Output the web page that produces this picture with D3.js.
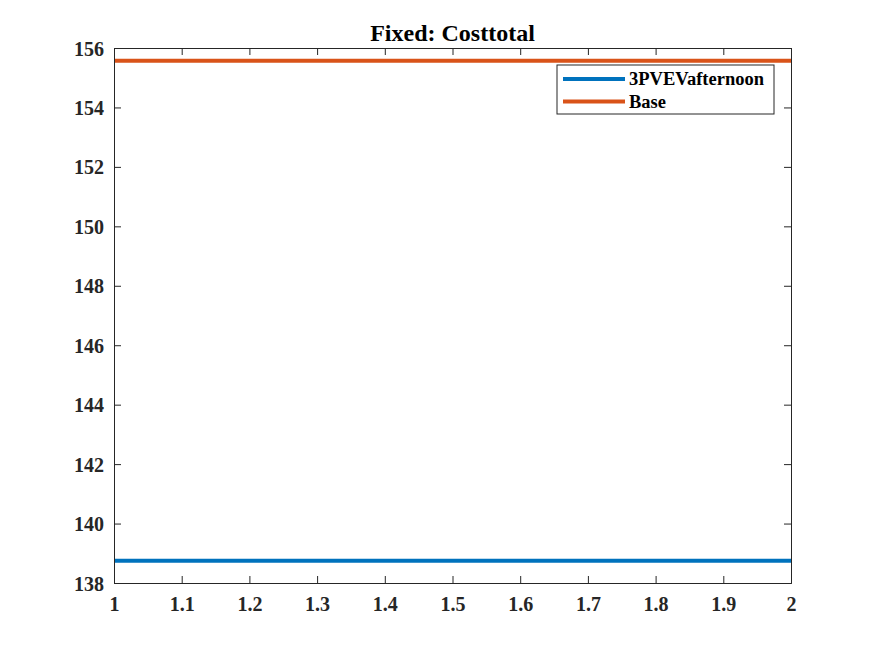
<!DOCTYPE html>
<html>
<head>
<meta charset="utf-8">
<script src="https://cdn.jsdelivr.net/npm/d3@7"></script>
<style>
  body { margin: 0; background: #fff; }
  svg text { font-family: "Liberation Serif", "Times New Roman", serif; font-weight: bold; }
</style>
</head>
<body>
<div id="chart"></div>
<script>
// data
const xDomain = [1, 2]
const xTicks = [1, 1.1, 1.2, 1.3, 1.4, 1.5, 1.6, 1.7, 1.8, 1.9, 2]
const yTicks = [138, 140, 142, 144, 146, 148, 150, 152, 154, 156]
const seriesNames = ['3PVEVafternoon', 'Base']
const seriesColors = ['#0072bd', '#d95319']
const seriesValues = [[138.75, 138.75], [155.57, 155.57]]
const titleText = 'Fixed: Costtotal'

const W = 875, H = 656
const margin = { left: 114, right: 84, top: 48, bottom: 73 }
const TICK = 7

const svg = d3.select('#chart').append('svg')
  .attr('width', W).attr('height', H)

const x = d3.scaleLinear().domain(xDomain).range([margin.left, W - margin.right])
const y = d3.scaleLinear().domain([138, 156]).range([H - margin.bottom, margin.top])

const plot = svg.append('g')

// series lines
const line = d3.line().x((d, i) => x(xDomain[0] + i * (xDomain[1] - xDomain[0]))).y(d => y(d))
seriesValues.forEach((vals, i) => {
  plot.append('path')
    .attr('d', line(vals))
    .attr('fill', 'none')
    .attr('stroke', seriesColors[i])
    .attr('stroke-width', 4)
})

// axes (ticks pointing inward, box style)
const axisColor = '#262626'
const axBottom = svg.append('g').attr('transform', `translate(0,${y.range()[0]})`)
  .call(d3.axisBottom(x).tickValues(xTicks).tickSize(-TICK).tickPadding(14).tickFormat(d3.format('')))
const axTop = svg.append('g').attr('transform', `translate(0,${y.range()[1]})`)
  .call(d3.axisTop(x).tickValues(xTicks).tickSize(-TICK).tickFormat(''))
const axLeft = svg.append('g').attr('transform', `translate(${x.range()[0]},0)`)
  .call(d3.axisLeft(y).tickValues(yTicks).tickSize(-TICK).tickPadding(10))
const axRight = svg.append('g').attr('transform', `translate(${x.range()[1]},0)`)
  .call(d3.axisRight(y).tickValues(yTicks).tickSize(-TICK).tickFormat(''))

;[axBottom, axTop, axLeft, axRight].forEach(g => {
  g.select('.domain').attr('stroke', axisColor).attr('stroke-width', 1)
  g.selectAll('.tick line').attr('stroke', axisColor).attr('stroke-width', 1)
  g.selectAll('.tick text')
    .attr('font-size', 20)
    .attr('fill', axisColor)
})
axBottom.selectAll('.tick text').attr('dy', '0.71em')
axLeft.selectAll('.tick text').attr('dy', '0.35em')

// title
svg.append('text')
  .attr('x', (x.range()[0] + x.range()[1]) / 2)
  .attr('y', 41)
  .attr('text-anchor', 'middle')
  .attr('font-size', 24)
  .attr('fill', '#000')
  .text(titleText)

// legend
const legend = svg.append('g').attr('transform', 'translate(557,65)')
legend.append('rect')
  .attr('width', 217).attr('height', 49)
  .attr('fill', '#fff').attr('stroke', axisColor).attr('stroke-width', 1)
seriesNames.forEach((name, i) => {
  const ly = 14 + i * 22.5
  legend.append('line')
    .attr('x1', 6).attr('x2', 68).attr('y1', ly).attr('y2', ly)
    .attr('stroke', seriesColors[i]).attr('stroke-width', 4)
  legend.append('text')
    .attr('x', 72).attr('y', ly).attr('dy', '0.35em')
    .attr('font-size', 18.5)
    .attr('fill', '#000')
    .text(name)
})
</script>
</body>
</html>
